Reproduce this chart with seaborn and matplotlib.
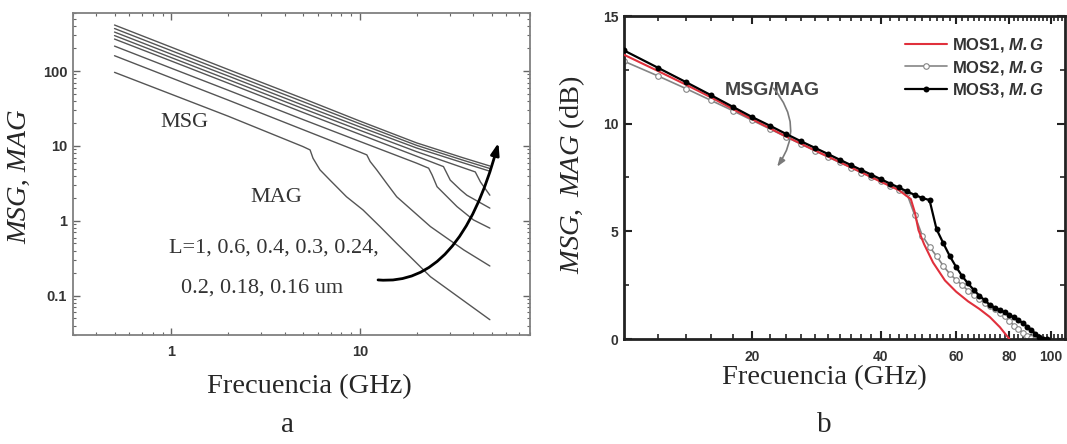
import matplotlib
matplotlib.use('Agg')
import pandas as pd
import matplotlib.pyplot as plt
from matplotlib.ticker import FixedLocator, LogLocator, NullFormatter
import seaborn as sns

sns.set_style("ticks")
plt.rcParams['font.family'] = ['Liberation Sans', 'DejaVu Sans']
plt.rcParams['mathtext.fontset'] = 'custom'
plt.rcParams['mathtext.rm'] = 'Liberation Serif'
plt.rcParams['mathtext.it'] = 'Liberation Serif:italic'
plt.rcParams['mathtext.bf'] = 'Liberation Sans:italic:bold'

# ---- panel a: MSG/MAG (linear gain) vs frequency, one curve per gate length
gate_len = ['1', '0.6', '0.4', '0.3', '0.24', '0.2', '0.18', '0.16']

f_l1 = [0.5, 1, 2, 5, 5.45, 5.65, 6.15, 6.95, 8.5, 10.4, 12.8, 15.7, 23.7, 37, 49]
g_l1 = [96, 49, 25, 9.8, 8.85, 6.85, 4.8, 3.5, 2.1, 1.4, 0.84, 0.5, 0.18, 0.08, 0.048]
f_l06 = [0.5, 1, 2, 5, 10, 10.9, 11.35, 12.3, 13.9, 15.7, 23.7, 35.6, 49]
g_l06 = [160, 81, 41, 16.5, 8.3, 7.6, 6.2, 4.8, 3.16, 2.1, 0.84, 0.41, 0.25]
f_l04 = [0.5, 1, 2, 5, 10, 20, 23.2, 24.2, 25.7, 32.8, 40.1, 49]
g_l04 = [215, 109, 55.5, 22.5, 11.5, 5.9, 5.05, 4.1, 2.86, 1.55, 1.03, 0.8]
f_l03 = [0.5, 1, 2, 5, 10, 20, 27.8, 30.2, 34.2, 37, 49]
g_l03 = [267, 136, 69, 28, 14.3, 7.3, 5.3, 3.5, 2.6, 2.2, 1.48]
f_l024 = [0.5, 1, 2, 5, 10, 20, 41, 43.7, 49]
g_l024 = [297, 151, 77, 31.5, 16.2, 8.4, 4.5, 3.3, 2.2]
f_l02 = [0.5, 1, 2, 5, 10, 20, 35, 49]
g_l02 = [331, 168, 86, 35, 18, 9.4, 6.0, 4.6]
f_l018 = [0.5, 1, 2, 5, 10, 20, 35, 49]
g_l018 = [369, 187, 95, 39, 19.8, 10.2, 6.5, 5.0]
f_l016 = [0.5, 1, 2, 5, 10, 20, 35, 49]
g_l016 = [411, 208, 105, 43, 21.5, 11.0, 7.0, 5.4]

freq_a = [f_l1, f_l06, f_l04, f_l03, f_l024, f_l02, f_l018, f_l016]
gain_a = [g_l1, g_l06, g_l04, g_l03, g_l024, g_l02, g_l018, g_l016]

# ---- panel b: MSG/MAG (dB) for three transistors
f_mos = [10, 12, 14, 16, 18, 20, 22, 24, 26, 28, 30, 32, 34, 36, 38, 40, 42, 44, 46, 48,
         50, 52, 54, 56, 58, 60, 62, 64, 66, 68, 70, 72, 74, 76, 78, 80, 82, 84, 86, 88,
         90, 92, 94, 96, 98]
g_mos3 = [13.40, 12.60, 11.92, 11.32, 10.78, 10.30, 9.90, 9.52, 9.18, 8.88, 8.60, 8.33,
          8.08, 7.85, 7.63, 7.42, 7.22, 7.04, 6.86, 6.69, 6.55, 6.45, 5.10, 4.45, 3.85,
          3.35, 2.92, 2.58, 2.28, 2.02, 1.80, 1.58, 1.45, 1.34, 1.24, 1.12, 1.00, 0.88,
          0.74, 0.58, 0.42, 0.25, 0.10, 0.02, 0.00]
f_mos2 = f_mos[:42]
g_mos2 = [12.90, 12.22, 11.62, 11.08, 10.60, 10.15, 9.75, 9.38, 9.05, 8.74, 8.46, 8.20,
          7.96, 7.73, 7.52, 7.32, 7.12, 6.94, 6.76, 5.75, 4.80, 4.28, 3.85, 3.40, 3.02,
          2.75, 2.50, 2.25, 2.03, 1.85, 1.68, 1.52, 1.38, 1.22, 1.05, 0.85, 0.62, 0.45,
          0.30, 0.15, 0.05, 0.00]
f_mos1 = [10, 12, 14, 16, 18, 20, 24, 28, 32, 36, 40, 44, 47, 48, 49, 50.5, 53, 56.5,
          60, 64, 68, 72, 76, 80]
g_mos1 = [13.2, 12.45, 11.8, 11.22, 10.68, 10.2, 9.4, 8.76, 8.22, 7.74, 7.3, 6.92, 6.5,
          5.9, 5.05, 4.4, 3.55, 2.72, 2.2, 1.75, 1.4, 1.02, 0.55, 0.0]

W, H = 1067, 444
fig = plt.figure(figsize=(W / 100, H / 100), dpi=100)
axa = fig.add_axes([72.7 / W, (H - 335) / H, (530 - 72.7) / W, (335 - 12.7) / H])
axb = fig.add_axes([624 / W, (H - 339) / H, (1065 - 624) / W, (339 - 16) / H])

# ----- panel a
rows = []
for lab, fs, gs in zip(gate_len, freq_a, gain_a):
    for f, g in zip(fs, gs):
        rows.append({'L': lab, 'f': f, 'g': g})
df_a = pd.DataFrame(rows)

axa.set_xscale('log')
axa.set_yscale('log')
sns.lineplot(data=df_a, x='f', y='g', units='L', estimator=None, sort=False,
             color='#555555', linewidth=1.0, ax=axa, legend=False)
axa.set_xlim(0.3, 80)
axa.set_ylim(0.03, 600)
axa.set_xticks([1, 10], ['1', '10'])
axa.set_yticks([0.1, 1, 10, 100], ['0.1', '1', '10', '100'])
axa.xaxis.set_minor_locator(LogLocator(subs=range(2, 10)))
axa.yaxis.set_minor_locator(LogLocator(subs=range(2, 10)))
axa.xaxis.set_minor_formatter(NullFormatter())
axa.yaxis.set_minor_formatter(NullFormatter())
axa.tick_params(which='both', direction='in', top=True, right=True, color='#666666')
axa.tick_params(which='major', length=5, width=1)
axa.tick_params(which='minor', length=2.5, width=0.8)
axa.tick_params(axis='x', pad=7, labelsize=10.5)
axa.tick_params(axis='y', pad=4, labelsize=10.5)
for lbl in axa.get_xticklabels() + axa.get_yticklabels():
    lbl.set_fontweight('bold')
    lbl.set_color('#333333')
for sp in axa.spines.values():
    sp.set_color('#808080')
    sp.set_linewidth(1.3)
axa.set_xlabel('Frecuencia (GHz)', fontfamily='Liberation Serif', fontsize=20.5,
               va='center')
axa.set_ylabel('MSG, MAG', fontfamily='Liberation Serif', style='italic', fontsize=20.5,
               va='center')
axa.xaxis.set_label_coords(0.518, -0.161)
axa.yaxis.set_label_coords(-0.115, 0.49)

serif = dict(fontfamily='Liberation Serif', color='#333333', fontsize=16)
axa.text(0.245, 0.66, 'MSG', transform=axa.transAxes, ha='center', va='center', **serif)
axa.text(0.445, 0.428, 'MAG', transform=axa.transAxes, ha='center', va='center', **serif)
axa.text(0.211, 0.27, 'L=1, 0.6, 0.4, 0.3, 0.24,', transform=axa.transAxes,
         ha='left', va='center', **serif)
axa.text(0.237, 0.146, '0.2, 0.18, 0.16 um', transform=axa.transAxes,
         ha='left', va='center', **serif)
axa.annotate('', xy=(54.4, 11.0), xytext=(12.5, 0.163),
             arrowprops=dict(arrowstyle='-|>,head_length=0.7,head_width=0.25',
                             connectionstyle='angle3,angleA=-5,angleB=75',
                             color='black', lw=2, shrinkA=0, shrinkB=0))

# ----- panel b
axb.set_xscale('log')
sns.lineplot(x=f_mos2, y=g_mos2, ax=axb, color='#858585', linewidth=1.2, marker='o',
             markersize=4, markerfacecolor='white', markeredgecolor='#858585',
             markeredgewidth=0.8, label='MOS2, $\\mathbf{M.G}$', zorder=2)
sns.lineplot(x=f_mos1, y=g_mos1, ax=axb, color='#e0303c', linewidth=1.5,
             label='MOS1, $\\mathbf{M.G}$', zorder=3)
sns.lineplot(x=f_mos, y=g_mos3, ax=axb, color='black', linewidth=1.6, marker='o',
             markersize=4.3, markeredgewidth=0, label='MOS3, $\\mathbf{M.G}$', zorder=4)
axb.set_xlim(10, 108)
axb.set_ylim(0, 15)
axb.set_xticks([20, 40, 60, 80, 100], ['20', '40', '60', '80', '100'])
axb.xaxis.set_minor_locator(FixedLocator([v for v in range(12, 108, 2) if v % 20 != 0]))
axb.xaxis.set_minor_formatter(NullFormatter())
axb.set_yticks([0, 5, 10, 15], ['0', '5', '10', '15'])
axb.yaxis.set_minor_locator(FixedLocator([2.5, 7.5, 12.5]))
axb.tick_params(which='both', direction='in', top=True, right=True, color='#222222')
axb.tick_params(which='major', length=6, width=1.5)
axb.tick_params(which='minor', length=3.5, width=1.2)
axb.tick_params(axis='x', pad=8, labelsize=10)
axb.tick_params(axis='y', pad=4, labelsize=10)
for lbl in axb.get_xticklabels() + axb.get_yticklabels():
    lbl.set_fontweight('bold')
    lbl.set_color('#333333')
for sp in axb.spines.values():
    sp.set_color('#222222')
    sp.set_linewidth(2)
axb.set_xlabel('Frecuencia (GHz)', fontfamily='Liberation Serif', fontsize=20.5,
               va='center')
axb.set_ylabel('$\\mathit{MSG},\\ \\mathit{MAG}$ (dB)', fontfamily='Liberation Serif',
               fontsize=20.5, va='center')
axb.xaxis.set_label_coords(0.455, -0.121)
axb.yaxis.set_label_coords(-0.118, 0.51)

handles, labels = axb.get_legend_handles_labels()
order = [1, 0, 2]
leg = axb.legend([handles[i] for i in order], [labels[i] for i in order],
                 loc='upper right', bbox_to_anchor=(0.985, 0.985), frameon=False,
                 fontsize=12, handlelength=2.5, handletextpad=0.3, labelspacing=0.28)
for t in leg.get_texts():
    t.set_fontweight('bold')
    t.set_color('#333333')

axb.text(22.3, 11.55, 'MSG/MAG', ha='center', va='center', fontsize=14,
         fontweight='bold', color='#444444')
axb.annotate('', xy=(22.85, 8.0), xytext=(22.42, 11.64),
             arrowprops=dict(arrowstyle='-|>,head_length=0.5,head_width=0.18',
                             connectionstyle='arc3,rad=-0.38',
                             color='#7a7a7a', lw=1.2, shrinkA=0, shrinkB=0))

fig.text(288 / W, 1 - 432 / H, 'a', fontfamily='Liberation Serif', fontsize=21,
         ha='center', va='baseline')
fig.text(824 / W, 1 - 432 / H, 'b', fontfamily='Liberation Serif', fontsize=21,
         ha='center', va='baseline')

fig.savefig('out.png', dpi=100)
